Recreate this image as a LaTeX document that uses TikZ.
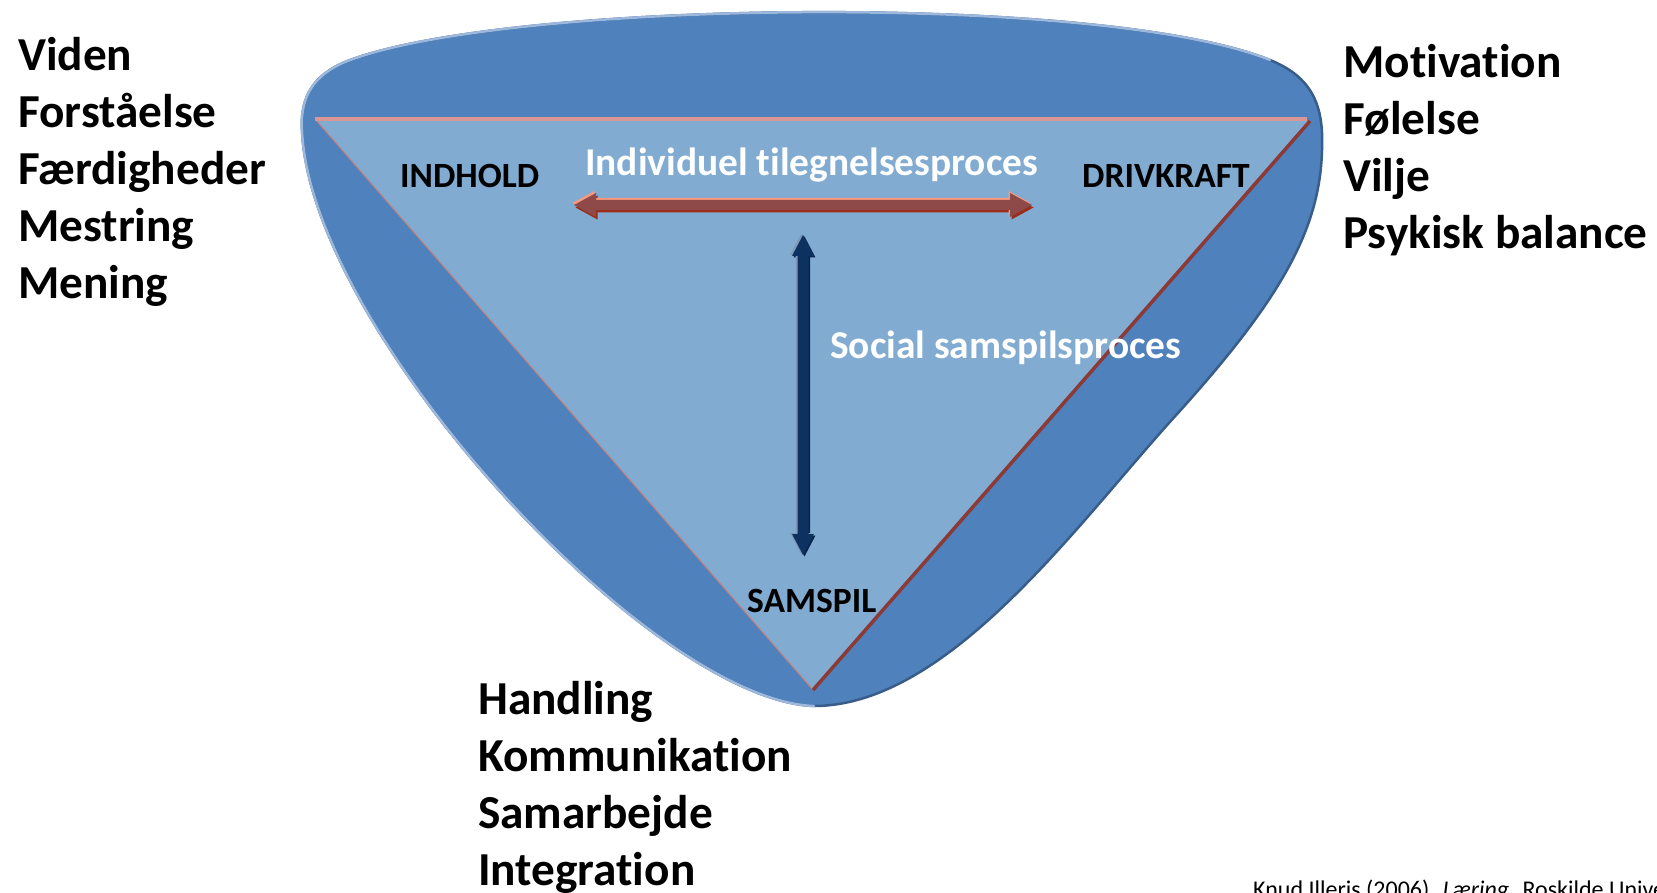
\documentclass[tikz,border=0pt]{standalone}
\usepackage{fontspec}
\setmainfont{Carlito}[Ligatures=NoCommon]
\definecolor{outerblue}{HTML}{4F81BD}
\definecolor{innerblue}{HTML}{82ABD1}
\definecolor{rimdark}{HTML}{385D8A}
\definecolor{rimlight}{HTML}{9CB8DC}
\definecolor{edgepink}{HTML}{D99694}
\definecolor{edgered}{HTML}{8C3A36}
\definecolor{edgethin}{HTML}{C77E7A}
\definecolor{arrowmain}{HTML}{8E4A48}
\definecolor{arrowhi}{HTML}{F79A80}
\definecolor{arrowlo}{HTML}{9C2C1A}
\definecolor{navymain}{HTML}{0D3161}
\definecolor{navyhi}{HTML}{7F9AB8}
\definecolor{navylo}{HTML}{08264D}

% outer bowl: left flank, top-left corner, top arc, top-right corner, right flank
\newcommand\bowlleft{(814,706) .. controls (650,700) and (310,330) .. (302,130)}
\newcommand\bowltop{.. controls (300,95) and (315,75) .. (345,62) .. controls (500,0) and (1100,-8) .. (1270,60)}
\newcommand\bowlright{.. controls (1312,77) and (1324,105) .. (1322,150) .. controls (1320,230) and (1280,300) .. (1178,413) .. controls (1080,520) and (950,706) .. (814,706)}
% double-headed arrows
\newcommand\harrowpath{(574,205) -- (596,193) -- (596,200) -- (1010,200) -- (1010,193) -- (1032,205) -- (1010,217) -- (1010,210) -- (596,210) -- (596,217) -- cycle}
\newcommand\varrowpath{(803,235) -- (814,256) -- (808.5,256) -- (808.5,534) -- (814,534) -- (803,555) -- (792,534) -- (797.5,534) -- (797.5,256) -- (792,256) -- cycle}

\begin{document}
\begin{tikzpicture}[x=1pt,y=-1pt,
  biglist/.style={anchor=base west, inner sep=0pt, font=\fontsize{47.3}{57}\selectfont\bfseries},
  cornerlabel/.style={anchor=base west, inner sep=0pt, font=\fontsize{35.5}{42}\selectfont\bfseries},
  processlabel/.style={anchor=base west, inner sep=0pt, text=white, font=\fontsize{39.4}{47}\selectfont\bfseries},
  citation/.style={anchor=base west, inner sep=0pt, font=\fontsize{24}{29}\selectfont}]
\useasboundingbox (0,0) rectangle (1657,893);
\clip (0,0) rectangle (1657,893);

% outer bowl
\fill[outerblue] \bowlleft \bowltop \bowlright -- cycle;
\draw[rimdark, line width=2.5pt] \bowlleft \bowltop \bowlright -- cycle;
\draw[rimlight, line width=2.5pt, line cap=round] \bowlleft \bowltop;

% inner triangle
\coordinate (tl) at (315,119);
\coordinate (tr) at (1310,121);
\coordinate (bt) at (813,690);
\fill[innerblue] (tl) -- (tr) -- (bt) -- cycle;
\draw[edgethin, line width=1pt] (tl) -- (bt);
\draw[edgepink, line width=3.5pt] (tl) -- (1307,119);
\draw[edgered, line width=3.5pt] (tr) -- (bt);

% horizontal arrow
\fill[arrowlo, shift={(1.5,2.5)}] \harrowpath;
\fill[arrowhi, shift={(-1.5,-2)}] \harrowpath;
\fill[arrowmain] \harrowpath;

% vertical arrow
\fill[navylo, shift={(1.5,1.5)}] \varrowpath;
\fill[navyhi, shift={(-2,-1)}] \varrowpath;
\fill[navymain] \varrowpath;

% corner labels
\node[cornerlabel] (indhold) at (400,188) {INDHOLD};
\node[cornerlabel] (drivkraft) at (1082,188) {DRIVKRAFT};
\node[cornerlabel] (samspil) at (747,612) {SAMSPIL};

% process labels
\node[processlabel] (individuel) at (585,176) {Individuel tilegnelsesproces};
\node[processlabel] (social) at (830,358) {Social samspilsproces};

% left list
\node[biglist] (viden) at (18,71) {Viden};
\node[biglist] (forst) at (18,128) {Forståelse};
\node[biglist] (faerd) at (18,185) {Færdigheder};
\node[biglist] (mestr) at (18,242) {Mestring};
\node[biglist] (mening) at (18,299) {Mening};

% right list
\node[biglist] (motiv) at (1343,78) {Motivation};
\node[biglist] (foelelse) at (1343,135) {Følelse};
\node[biglist] (vilje) at (1343,192) {Vilje};
\node[biglist] (psyk) at (1343,249) {Psykisk balance};

% bottom list
\node[biglist] (handling) at (478,714) {Handling};
\node[biglist] (komm) at (478,771) {Kommunikation};
\node[biglist] (samarb) at (478,828) {Samarbejde};
\node[biglist] (integr) at (478,885) {Integration};

% source
\node[citation] (source) at (1253,897) {Knud Illeris (2006). \textit{Læring}. Roskilde Universitetsforlag.};
\end{tikzpicture}
\end{document}
